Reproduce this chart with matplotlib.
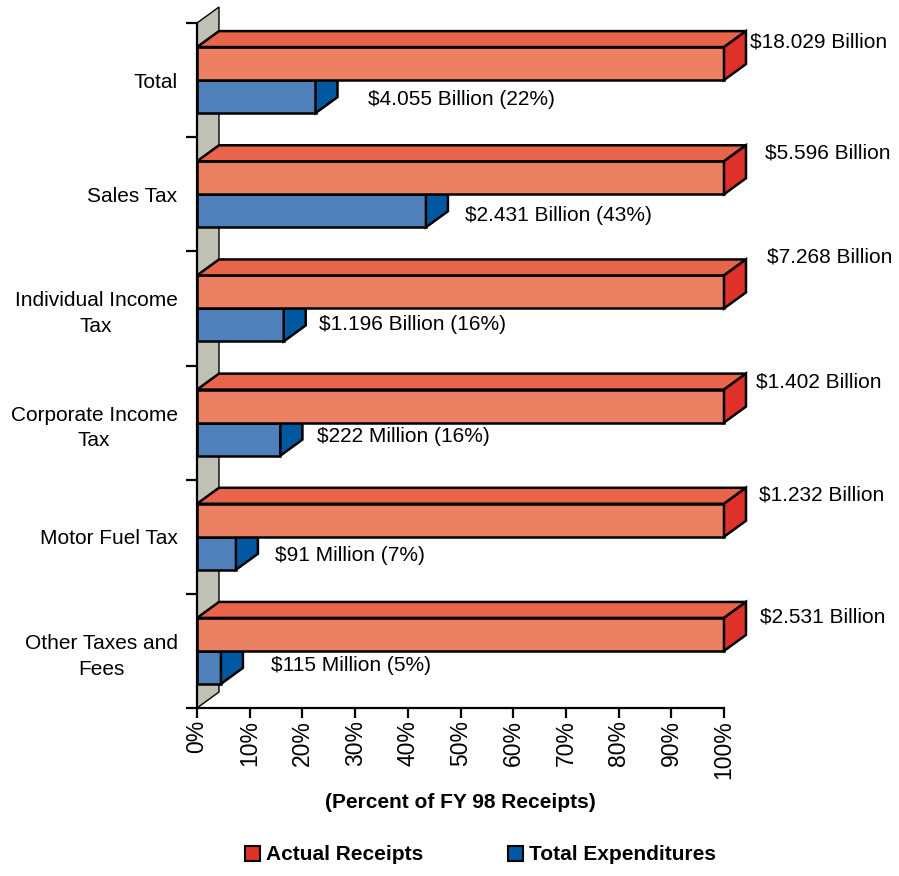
import numpy as np
import matplotlib.pyplot as plt
from matplotlib.patches import Polygon, Patch

plt.rcParams['font.family'] = ['Liberation Sans', 'DejaVu Sans']

# FY 98 receipts and expenditures, in billions of dollars
categories = ['Total', 'Sales Tax', 'Individual Income\nTax',
              'Corporate Income\nTax', 'Motor Fuel Tax', 'Other Taxes and\nFees']
receipts = [18.029, 5.596, 7.268, 1.402, 1.232, 2.531]
expenditures = [4.055, 2.431, 1.196, 0.222, 0.091, 0.115]
x_ticks = [0, 10, 20, 30, 40, 50, 60, 70, 80, 90, 100]

# where the value labels sit (x in percent, y relative to the category)
red_lab_x = [104.9, 107.8, 108.2, 106.1, 106.6, 106.8]
red_lab_y = [-0.334, -0.361, -0.450, -0.356, -0.366, -0.297]
blue_lab_x = [32.4, 50.9, 23.1, 22.8, 14.8, 14.0]
blue_lab_y = [0.174, 0.190, 0.145, 0.126, 0.160, 0.132]

RED_FRONT, RED_TOP, RED_SIDE = '#EB8062', '#E8644A', '#E0302A'
BLUE_FRONT, BLUE_SIDE = '#5080BA', '#0058A0'
WALL = '#C0C0B4'

H = 0.289      # bar thickness (category units)
DX = 4.17      # depth offset in x (percent)
DY = 0.140     # depth offset in y (category units)
LW = 1.8


def money(v):
    if v >= 1:
        return f'${v:.3f} Billion'
    return f'${v * 1000:.0f} Million'


def box(ax, x1, yt, yb, front, top, side, z):
    x0 = 0
    faces = [
        ([(x0, yt), (x1, yt), (x1, yb), (x0, yb)], front),
        ([(x0, yt), (x0 + DX, yt - DY), (x1 + DX, yt - DY), (x1, yt)], top),
        ([(x1, yt), (x1 + DX, yt - DY), (x1 + DX, yb - DY), (x1, yb)], side),
    ]
    for pts, c in faces:
        ax.add_patch(Polygon(pts, closed=True, facecolor=c, edgecolor='black',
                             lw=LW, joinstyle='miter', zorder=z, clip_on=False))


fig = plt.figure(figsize=(8.99, 8.76), dpi=100)
ax = fig.add_axes([197 / 899, 168 / 876, 527 / 899, 685 / 876])
ax.set_xlim(0, 100)
ax.set_ylim(5.5, -0.5)

# gray back wall on the left
n = len(categories)
wall = Polygon([(0, n - 0.5), (DX, n - 0.5 - DY), (DX, -0.5 - DY), (0, -0.5)],
               closed=True, facecolor=WALL, edgecolor='black', lw=1.0,
               zorder=1, clip_on=False)
ax.add_patch(wall)

for i in range(n):
    pct = expenditures[i] / receipts[i] * 100
    box(ax, pct, i, i + H, BLUE_FRONT, BLUE_FRONT, BLUE_SIDE, 2)
    box(ax, 100, i - H, i, RED_FRONT, RED_TOP, RED_SIDE, 3)
    ax.text(red_lab_x[i], i + red_lab_y[i], money(receipts[i]), fontsize=15,
            ha='left', va='center', clip_on=False)
    ax.text(blue_lab_x[i], i + blue_lab_y[i],
            f'{money(expenditures[i])} ({pct:.0f}%)', fontsize=15,
            ha='left', va='center', clip_on=False)

# axes styling
for s in ['top', 'right']:
    ax.spines[s].set_visible(False)
for s in ['left', 'bottom']:
    ax.spines[s].set_linewidth(1.6)
    ax.spines[s].set_zorder(5)

ax.set_xticks(x_ticks)
ax.set_xticklabels([f'{v}%' for v in x_ticks], rotation=90, fontsize=16.5)
ax.tick_params(axis='x', direction='out', length=7.5, width=1.6, pad=1)

ax.set_yticks(np.arange(-0.5, n, 1))
ax.set_yticklabels([])
ax.tick_params(axis='y', which='major', direction='out', length=8, width=1.6)
ax.set_yticks(range(n), categories, minor=True)
ax.tick_params(axis='y', which='minor', length=0, pad=14, labelsize=15)
for lab in ax.get_yticklabels(minor=True):
    lab.set_multialignment('center')
    lab.set_linespacing(1.45)

ax.set_xlabel('(Percent of FY 98 Receipts)', fontsize=15, fontweight='bold')
ax.xaxis.label.set_va('center')
ax.xaxis.set_label_coords(0.5, (708 - 803) / 685)

handles = [Patch(facecolor=RED_SIDE, edgecolor='black', lw=1.5),
           Patch(facecolor=BLUE_SIDE, edgecolor='black', lw=1.5)]
fig.legend(handles, ['Actual Receipts', 'Total Expenditures'], loc='center',
           bbox_to_anchor=(480.5 / 899, 1 - 855 / 876), ncol=2, frameon=False,
           handlelength=0.72, handleheight=0.72, handletextpad=0.25,
           columnspacing=4.1, prop={'size': 15, 'weight': 'bold'})

fig.savefig('out.png', dpi=100)
